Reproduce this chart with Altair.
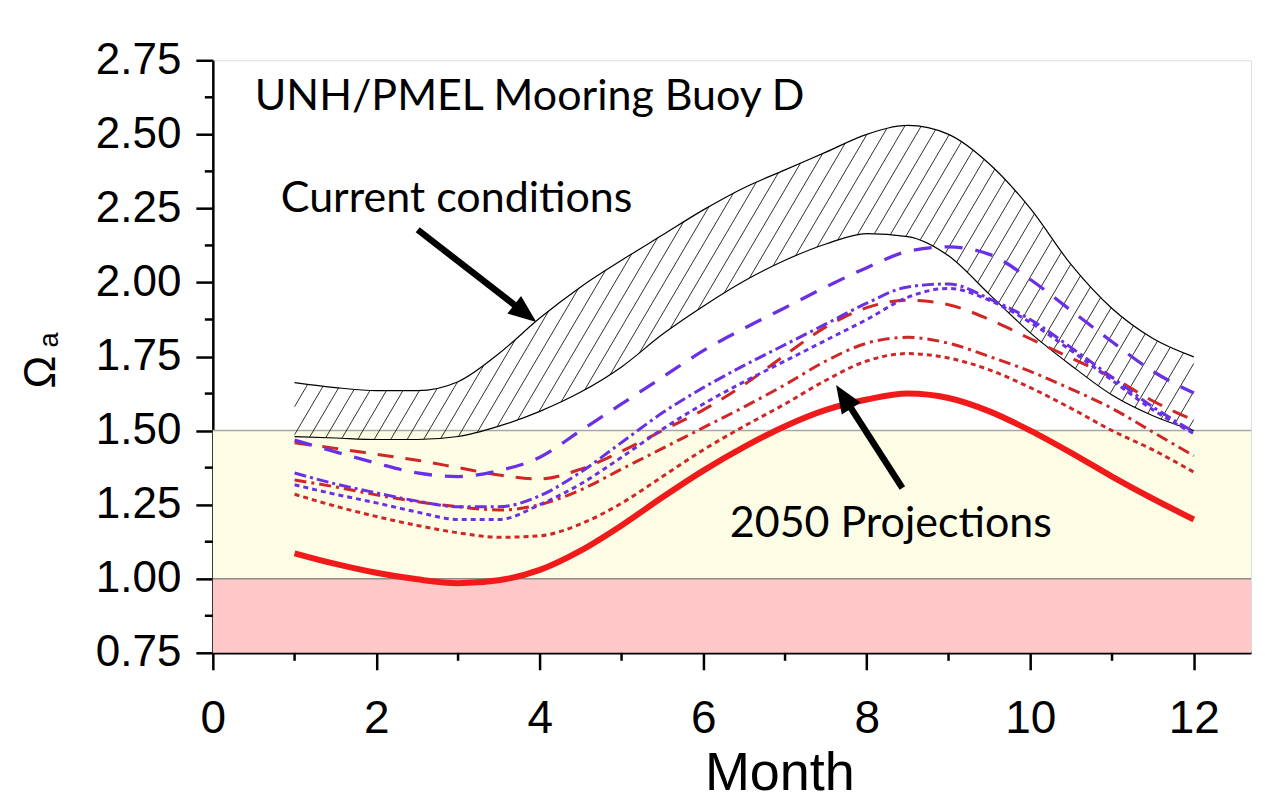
import altair as alt
import numpy as np
import pandas as pd

# ---------------- data ----------------
months = [1.0, 1.5, 2.0, 2.5, 3.0, 3.5, 4.0, 4.5, 5.0, 5.5, 6.0, 6.5,
          7.0, 7.5, 8.0, 8.5, 9.0, 9.5, 10.0, 10.5, 11.0, 11.5, 12.0]

band_upper = [1.662, 1.645, 1.635, 1.635, 1.665, 1.76, 1.88, 1.985, 2.075, 2.16, 2.245, 2.32,
              2.38, 2.44, 2.50, 2.53, 2.50, 2.40, 2.25, 2.06, 1.912, 1.811, 1.749]
band_lower = [1.48, 1.475, 1.47, 1.47, 1.48, 1.515, 1.565, 1.63, 1.715, 1.825, 1.92, 2.005,
              2.075, 2.13, 2.165, 2.155, 2.09, 1.96, 1.83, 1.72, 1.62, 1.55, 1.50]

blue_long_dash = [1.468, 1.428, 1.39, 1.357, 1.345, 1.365, 1.41, 1.50, 1.59, 1.68, 1.77, 1.845,
                  1.915, 1.985, 2.05, 2.105, 2.12, 2.095, 2.01, 1.905, 1.80, 1.70, 1.627]
blue_dash_dot = [1.357, 1.32, 1.29, 1.262, 1.243, 1.243, 1.28, 1.36, 1.46, 1.56, 1.645, 1.72,
                 1.79, 1.86, 1.93, 1.985, 1.995, 1.945, 1.875, 1.78, 1.68, 1.58, 1.496]
blue_dotted = [1.317, 1.285, 1.256, 1.225, 1.20, 1.20, 1.25, 1.32, 1.41, 1.505, 1.59, 1.665,
               1.735, 1.805, 1.875, 1.95, 1.98, 1.94, 1.865, 1.77, 1.67, 1.57, 1.49]
red_dashed = [1.459, 1.44, 1.42, 1.40, 1.375, 1.35, 1.337, 1.37, 1.43, 1.50, 1.57, 1.655,
              1.755, 1.85, 1.915, 1.94, 1.925, 1.875, 1.81, 1.745, 1.68, 1.60, 1.535]
red_dash_dot = [1.333, 1.31, 1.283, 1.26, 1.243, 1.232, 1.25, 1.30, 1.37, 1.44, 1.51, 1.58,
                1.655, 1.735, 1.795, 1.815, 1.795, 1.75, 1.70, 1.64, 1.575, 1.495, 1.415]
red_dotted = [1.285, 1.245, 1.21, 1.18, 1.155, 1.14, 1.145, 1.185, 1.255, 1.345, 1.435, 1.515,
              1.59, 1.67, 1.735, 1.76, 1.745, 1.705, 1.645, 1.575, 1.50, 1.435, 1.36]
red_solid = [1.086, 1.05, 1.02, 0.998, 0.985, 0.995, 1.03, 1.095, 1.18, 1.275, 1.365, 1.445,
             1.515, 1.57, 1.605, 1.625, 1.61, 1.565, 1.50, 1.425, 1.345, 1.27, 1.20]

zone_low = [0.75, 1.0]
zone_high = [1.0, 1.5]
zone_colors = ["#FFC8C8", "#FDFDE6"]
zone_lines = [1.0, 1.5]
zone_line_colors = ["#8C8C8C", "#A8A8A8"]

x_ticks = [0, 2, 4, 6, 8, 10, 12]
x_minor = [1, 3, 5, 7, 9, 11]
y_ticks = [0.75, 1.0, 1.25, 1.5, 1.75, 2.0, 2.25, 2.5, 2.75]
y_minor = [0.875, 1.125, 1.375, 1.625, 1.875, 2.125, 2.375, 2.625]

ann_text = ["UNH/PMEL Mooring Buoy D", "Current conditions", "2050 Projections"]
ann_m = [3.875, 2.982, 8.294]
ann_v = [2.581, 2.238, 1.142]

arrow_tail_m = [2.506, 8.435]
arrow_tail_v = [2.178, 1.306]
arrow_tip_m = [3.957, 7.624]
arrow_tip_v = [1.867, 1.654]

# ---------------- layout ----------------
W, H = 1039, 593
X_MAX = 12.7
Y_MIN, Y_MAX = 0.75, 2.75
PX_M = W / X_MAX
PX_V = H / (Y_MAX - Y_MIN)

LABEL_FONT = "Liberation Sans Narrow, Arial Narrow, Liberation Sans, Arial, sans-serif"
ANN_FONT = "Lato, Carlito, Open Sans, sans-serif"

xscale = alt.Scale(domain=[0, X_MAX], nice=False, zero=False)
yscale = alt.Scale(domain=[Y_MIN, Y_MAX], nice=False, zero=False)

x_axis = alt.Axis(values=x_ticks, format="d", grid=False, tickSize=17, tickWidth=2.5,
                  tickColor="black", domainColor="black", domainWidth=2.5,
                  labelFont=LABEL_FONT, labelFontSize=46, labelColor="black",
                  labelBaseline="top", labelPadding=27, labelFlush=False, labelOverlap=False,
                  title="Month", titleFont=LABEL_FONT, titleFontSize=54,
                  titleFontWeight="normal", titleColor="black", titleX=567, titleY=137,
                  titleAlign="center", titleBaseline="alphabetic")
y_axis = alt.Axis(values=y_ticks, format=".2f", grid=False, tickSize=17, tickWidth=2.5,
                  tickColor="black", domainColor="black", domainWidth=2.5,
                  labelFont=LABEL_FONT, labelFontSize=44, labelColor="black",
                  labelPadding=15, labelFlush=False, labelOverlap=False,
                  title="Ω", titleFont=LABEL_FONT, titleFontSize=44,
                  titleFontWeight="normal", titleColor="black", titleAngle=270,
                  titleX=-158, titleY=311.5, titleAlign="center",
                  titleBaseline="alphabetic")


def X(f):
    return alt.X(f, type="quantitative", scale=xscale, axis=x_axis)


def Y(f):
    return alt.Y(f, type="quantitative", scale=yscale, axis=y_axis)


def monotone_curve(xs, ys, xq):
    """Same cubic as d3.curveMonotoneX, used to place the hatching inside the band."""
    xs = np.asarray(xs, float)
    ys = np.asarray(ys, float)
    n = len(xs)
    h = np.diff(xs)
    s = np.diff(ys) / h
    t = np.zeros(n)
    for i in range(1, n - 1):
        h0, h1, s0, s1 = h[i - 1], h[i], s[i - 1], s[i]
        p = (s0 * h1 + s1 * h0) / (h0 + h1)
        t[i] = (np.sign(s0) + np.sign(s1)) * min(abs(s0), abs(s1), 0.5 * abs(p))
    t[0] = (3 * s[0] - t[1]) / 2
    t[-1] = (3 * s[-1] - t[-2]) / 2
    idx = np.clip(np.searchsorted(xs, xq, side="right") - 1, 0, n - 2)
    hh = h[idx]
    u = (xq - xs[idx]) / hh
    y0 = ys[idx]
    y1 = ys[idx + 1]
    c0 = y0 + hh * t[idx] / 3
    c1 = y1 - hh * t[idx + 1] / 3
    return (1 - u) ** 3 * y0 + 3 * (1 - u) ** 2 * u * c0 + 3 * (1 - u) * u ** 2 * c1 + u ** 3 * y1


# ---------------- hatching of the "current conditions" band ----------------
hatch_slope_px = 1.7
hatch_gap_px = 16.5
k = hatch_slope_px * PX_M / PX_V
gap_m = hatch_gap_px / PX_M
mm = np.linspace(months[0], months[-1], 22001)
lo_q = monotone_curve(months, band_lower, mm)
hi_q = monotone_curve(months, band_upper, mm)
seg = {"m1": [], "v1": [], "m2": [], "v2": []}
for m0 in np.arange(months[0] - 3.0 / k, months[-1] + gap_m, gap_m):
    vv = k * (mm - m0)
    inside = ((vv >= lo_q) & (vv <= hi_q)).astype(int)
    d = np.diff(np.concatenate([[0], inside, [0]]))
    starts = np.flatnonzero(d == 1)
    ends = np.flatnonzero(d == -1) - 1
    for a, b in zip(starts, ends):
        if b > a:
            seg["m1"].append(mm[a]); seg["v1"].append(vv[a])
            seg["m2"].append(mm[b]); seg["v2"].append(vv[b])
hatch_df = pd.DataFrame(seg)

# ---------------- layers ----------------
zones = alt.Chart(pd.DataFrame({"lo": zone_low, "hi": zone_high, "c": zone_colors})).mark_rect().encode(
    x=alt.value(0), x2=alt.value(W), y=Y("lo"), y2=alt.Y2("hi"),
    color=alt.Color("c:N", scale=None))

zone_rules = alt.Chart(pd.DataFrame({"v": zone_lines, "c": zone_line_colors})).mark_rule(strokeWidth=1.5).encode(
    x=alt.value(0), x2=alt.value(W), y=Y("v"), color=alt.Color("c:N", scale=None))

hatch = alt.Chart(hatch_df).mark_rule(color="#1a1a1a", strokeWidth=0.9).encode(
    x=X("m1"), y=Y("v1"), x2=alt.X2("m2"), y2=alt.Y2("v2"))

band_df = pd.concat([
    pd.DataFrame({"m": months, "v": band_upper, "edge": "upper"}),
    pd.DataFrame({"m": months, "v": band_lower, "edge": "lower"}),
])
band_edges = alt.Chart(band_df).mark_line(interpolate="monotone", color="black", strokeWidth=1.2).encode(
    x=X("m"), y=Y("v"), detail="edge:N")

BLUE = "#6A30E4"
RED = "#D02626"
series = [
    (red_dotted, RED, [5, 4], 3.0),
    (red_dash_dot, RED, [12, 5, 3, 5], 3.0),
    (red_dashed, RED, [16, 12], 3.0),
    (blue_dotted, BLUE, [5, 4], 3.0),
    (blue_dash_dot, BLUE, [12, 4, 3, 4], 3.0),
    (blue_long_dash, BLUE, [18, 13], 3.3),
    (red_solid, "#F01A1A", None, 6.0),
]
proj_layers = []
for vals, col, dash, wid in series:
    kw = dict(interpolate="monotone", color=col, strokeWidth=wid)
    if dash is not None:
        kw["strokeDash"] = dash
    proj_layers.append(
        alt.Chart(pd.DataFrame({"m": months, "v": vals})).mark_line(**kw).encode(x=X("m"), y=Y("v")))

# arrows
tail_m = np.array(arrow_tail_m); tail_v = np.array(arrow_tail_v)
tip_m = np.array(arrow_tip_m); tip_v = np.array(arrow_tip_v)
dx_px = (tip_m - tail_m) * PX_M
dy_px = -(tip_v - tail_v) * PX_V
length_px = np.hypot(dx_px, dy_px)
frac = (length_px - 20.0) / length_px
shaft_df = pd.DataFrame({"m1": tail_m, "v1": tail_v,
                         "m2": tail_m + (tip_m - tail_m) * frac,
                         "v2": tail_v + (tip_v - tail_v) * frac})
head_df = pd.DataFrame({"m": tip_m, "v": tip_v,
                        "ang": np.degrees(np.arctan2(dx_px, -dy_px)) % 360})
shafts = alt.Chart(shaft_df).mark_rule(color="black", strokeWidth=6.5).encode(
    x=X("m1"), y=Y("v1"), x2=alt.X2("m2"), y2=alt.Y2("v2"))
heads = alt.Chart(head_df).mark_point(shape="M0,0L0.8,2L-0.8,2Z", filled=True, color="black",
                                      size=784, opacity=1, strokeWidth=0).encode(
    x=X("m"), y=Y("v"), angle=alt.Angle("ang:Q", scale=None))

texts = alt.Chart(pd.DataFrame({"t": ann_text, "m": ann_m, "v": ann_v})).mark_text(
    font=ANN_FONT, fontSize=43, color="black", align="center", baseline="alphabetic").encode(
    x=X("m"), y=Y("v"), text="t:N")

y_minor_ticks = alt.Chart(pd.DataFrame({"v": y_minor})).mark_rule(color="black", strokeWidth=2.5).encode(
    x=alt.value(-8), x2=alt.value(0), y=Y("v"))
x_minor_ticks = alt.Chart(pd.DataFrame({"m": x_minor})).mark_rule(color="black", strokeWidth=2.5).encode(
    y=alt.value(H), y2=alt.value(H + 8), x=X("m"))

subscript = alt.Chart(pd.DataFrame({"t": ["a"]})).mark_text(
    font=LABEL_FONT, fontSize=27, color="black", angle=270, align="center",
    baseline="alphabetic").encode(x=alt.value(-155), y=alt.value(280), text="t:N")

chart = alt.layer(
    zones, zone_rules, hatch, band_edges, *proj_layers, shafts, heads, texts,
    y_minor_ticks, x_minor_ticks, subscript
).properties(
    width=W, height=H,
    autosize=alt.AutoSizeParams(type="none"),
    padding={"left": 205, "top": 52, "right": 6, "bottom": 150},
).configure_view(stroke=None).configure(background="white")

chart.save("out.html", embed_options={"renderer": "svg", "actions": False})
